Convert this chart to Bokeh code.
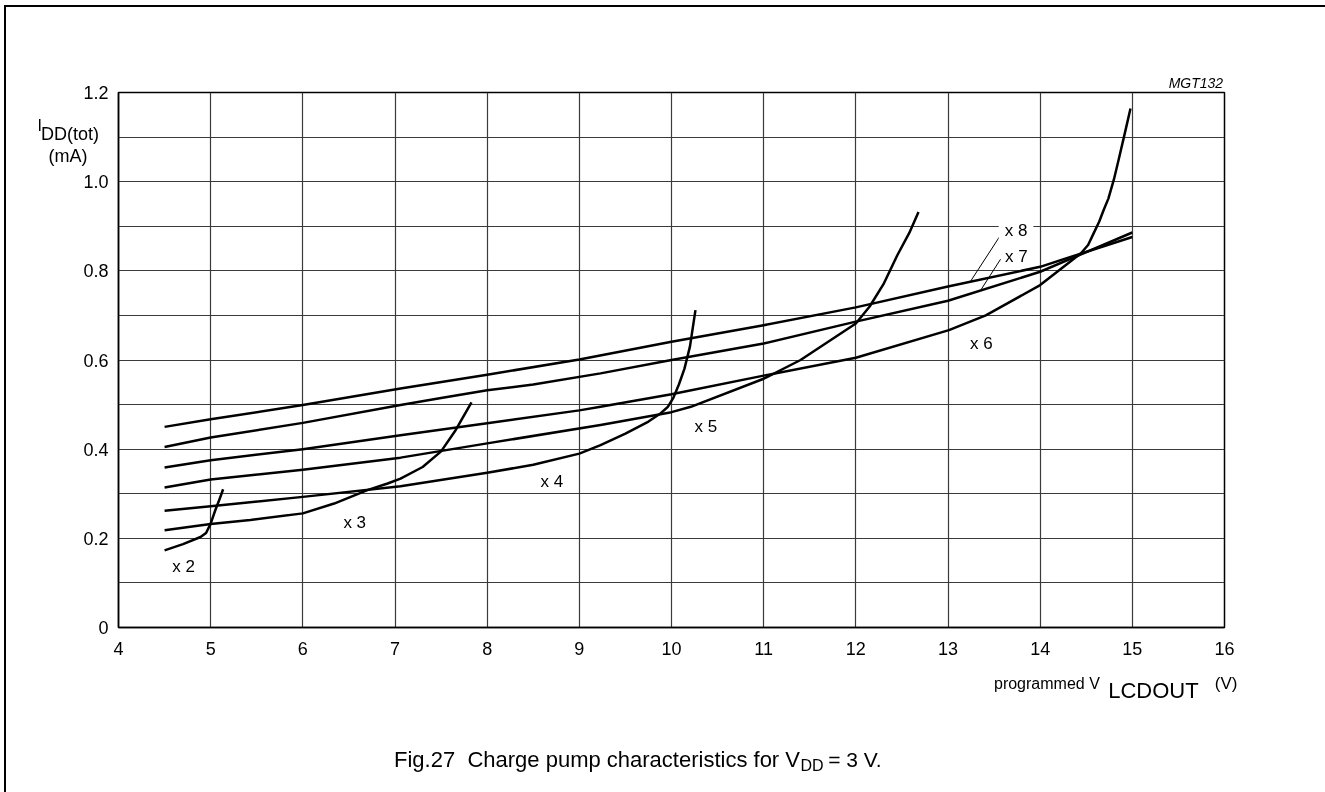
from bokeh.plotting import figure
from bokeh.models import FixedTicker, Label
from bokeh.embed import file_html
from bokeh.resources import INLINE

FONT = "Liberation Sans"

# ---- data ----
x2_x = [4.5, 4.7, 4.89, 4.95, 5.0, 5.05, 5.1, 5.135]
x2_y = [0.173, 0.187, 0.203, 0.212, 0.233, 0.263, 0.29, 0.31]

x3_x = [4.5, 5.0, 5.43, 6.0, 6.34, 6.7, 6.92, 7.06, 7.3, 7.5, 7.65, 7.83]
x3_y = [0.218, 0.232, 0.241, 0.256, 0.278, 0.308, 0.323, 0.334, 0.36, 0.395, 0.44, 0.505]

x4_x = [4.5, 5.0, 6.0, 7.06, 8.0, 8.5, 9.0, 9.23, 9.5, 9.75, 9.88, 9.96, 10.02, 10.08, 10.14, 10.2, 10.26]
x4_y = [0.262, 0.272, 0.293, 0.317, 0.347, 0.365, 0.39, 0.409, 0.435, 0.462, 0.48, 0.495, 0.515, 0.545, 0.58, 0.63, 0.712]

x5_x = [4.5, 5.0, 6.0, 7.06, 8.0, 9.23, 10.0, 10.21, 11.0, 11.4, 12.0, 12.15, 12.3, 12.45, 12.58, 12.68]
x5_y = [0.314, 0.332, 0.354, 0.381, 0.413, 0.454, 0.483, 0.495, 0.558, 0.6, 0.682, 0.72, 0.77, 0.835, 0.885, 0.932]

x6_x = [4.5, 5.0, 6.0, 7.06, 8.0, 9.0, 9.23, 10.0, 11.0, 12.0, 13.01, 13.41, 14.0, 14.44, 14.52, 14.58, 14.64, 14.69, 14.74, 14.8, 14.85, 14.92, 14.98]
x6_y = [0.359, 0.375, 0.4, 0.431, 0.458, 0.487, 0.495, 0.523, 0.565, 0.605, 0.667, 0.70, 0.768, 0.839, 0.858, 0.884, 0.91, 0.937, 0.962, 1.005, 1.048, 1.11, 1.164]

x7_x = [4.5, 5.0, 6.0, 7.06, 7.5, 8.0, 8.5, 9.23, 10.0, 11.0, 12.0, 13.0, 14.0, 15.0]
x7_y = [0.405, 0.426, 0.459, 0.499, 0.515, 0.532, 0.545, 0.570, 0.6, 0.637, 0.686, 0.733, 0.798, 0.886]

x8_x = [4.5, 5.0, 6.0, 7.06, 8.0, 9.0, 10.0, 11.0, 12.0, 13.0, 14.0, 15.0]
x8_y = [0.45, 0.467, 0.499, 0.536, 0.567, 0.601, 0.641, 0.678, 0.718, 0.765, 0.809, 0.876]

curve_names = ["x 2", "x 3", "x 4", "x 5", "x 6", "x 7", "x 8"]
curve_label_x = [4.707, 6.563, 8.703, 10.372, 13.361, 13.741, 13.738]
curve_label_y = [0.1375, 0.2346, 0.3282, 0.45, 0.637, 0.8329, 0.8896]

# leader lines for x 8 and x 7 labels
leader_x0 = [13.57, 13.57]
leader_y0 = [0.880, 0.826]
leader_x1 = [13.24, 13.35]
leader_y1 = [0.775, 0.755]

x_ticks = [4, 5, 6, 7, 8, 9, 10, 11, 12, 13, 14, 15, 16]
x_tick_labels = [str(t) for t in x_ticks]
y_ticks = [0, 0.2, 0.4, 0.6, 0.8, 1.0, 1.2]
y_tick_labels = ["0", "0.2", "0.4", "0.6", "0.8", "1.0", "1.2"]
x_grid = [5, 6, 7, 8, 9, 10, 11, 12, 13, 14, 15]
y_grid = [0.1, 0.2, 0.3, 0.4, 0.5, 0.6, 0.7, 0.8, 0.9, 1.0, 1.1]

# ---- figure ----
p = figure(frame_width=1106, frame_height=535, x_range=(4, 16), y_range=(0, 1.2),
           output_backend="svg", toolbar_location=None, title=None,
           min_border_left=112, min_border_right=101,
           min_border_top=85, min_border_bottom=161)
p.styles = {"border-left": "2px solid black", "border-top": "2px solid black",
            "position": "fixed", "left": "4px", "top": "5px"}

p.outline_line_color = "black"
p.outline_line_width = 1.5
p.background_fill_color = "white"
p.border_fill_color = "white"

p.xaxis.ticker = FixedTicker(ticks=x_ticks)
p.yaxis.ticker = FixedTicker(ticks=y_ticks)
p.xaxis.major_label_overrides = dict(zip(x_ticks, x_tick_labels))
p.yaxis.major_label_overrides = dict(zip(y_ticks, y_tick_labels))
for ax in (p.xaxis, p.yaxis):
    ax.major_tick_out = 0
    ax.major_tick_in = 0
    ax.minor_tick_out = 0
    ax.minor_tick_in = 0
    ax.axis_line_color = "black"
    ax.axis_line_width = 1.5
    ax.major_label_text_font = FONT
    ax.major_label_text_font_size = "18px"
    ax.major_label_text_color = "black"
p.xaxis.major_label_standoff = 14
p.yaxis.major_label_standoff = 10

p.xgrid.ticker = FixedTicker(ticks=x_grid)
p.ygrid.ticker = FixedTicker(ticks=y_grid)
p.grid.grid_line_color = "#3a3a3a"
p.grid.grid_line_width = 1.2

for xs, ys in [(x2_x, x2_y), (x3_x, x3_y), (x4_x, x4_y), (x5_x, x5_y),
               (x6_x, x6_y), (x7_x, x7_y), (x8_x, x8_y)]:
    p.line(xs, ys, line_color="black", line_width=2.5, line_join="round")

p.segment(x0=leader_x0, y0=leader_y0, x1=leader_x1, y1=leader_y1,
          line_color="black", line_width=1)

for name, lx, ly in zip(curve_names, curve_label_x, curve_label_y):
    kw = {}
    if name == "x 8":
        kw = dict(background_fill_color="white", padding=6)
    p.add_layout(Label(x=lx, y=ly, text=name, text_font=FONT, text_font_size="17px",
                       text_align="center", text_baseline="alphabetic",
                       text_color="black", **kw))

def lab(x, y, text, size, align="left", style="normal"):
    # placed in a side panel so the text is not clipped to the plot frame
    p.add_layout(Label(x=x, y=y, text=text, text_font=FONT, text_font_size=size,
                       text_align=align, text_baseline="alphabetic",
                       text_font_style=style, text_color="black"), "below")

# y axis title I_DD(tot) (mA)
lab(3.121, 1.1267, "I", "16px")
lab(3.159, 1.1066, "DD(tot)", "18px")
lab(3.452, 1.0572, "(mA)", "18px", align="center")
# figure code
lab(15.985, 1.2203, "MGT132", "14px", align="right", style="italic")
# x axis title
lab(14.647, -0.1256, "programmed V", "16px", align="right")
lab(15.229, -0.1406, "LCDOUT", "22px", align="center")
lab(16.141, -0.1256, "(V)", "17px", align="right")
# caption
lab(11.394, -0.2954, "Fig.27\u00a0 Charge pump characteristics for V", "22px", align="right")
lab(11.40, -0.3089, "DD", "16px")
lab(11.70, -0.2954, "= 3 V.", "21px")

open("out.html", "w").write(file_html(p, INLINE))
